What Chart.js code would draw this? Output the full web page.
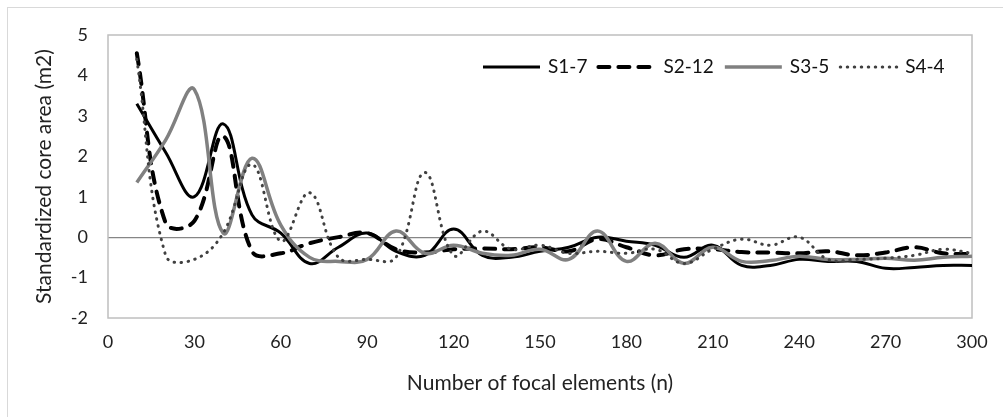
<!DOCTYPE html>
<html>
<head>
<meta charset="utf-8">
<script src="https://cdn.jsdelivr.net/npm/chart.js@4.4.1/dist/chart.umd.min.js"></script>
<style>
  body { margin: 0; background: #fff; }
  #wrap { width: 1003px; height: 417px; }
</style>
</head>
<body>
<div id="wrap"><canvas id="coreChart" width="1003" height="417"></canvas></div>
<script>
// focal elements (n)
const focalElements = [10, 20, 30, 40, 50, 60, 70, 80, 90, 100, 110, 120, 130, 140, 150,
                       160, 170, 180, 190, 200, 210, 220, 230, 240, 250, 260, 270, 280, 290, 300];

// standardized core area per scenario
const s1Values = [3.3, 2.1, 1.0, 2.8, 0.55, 0.1, -0.65, -0.25, 0.1, -0.35, -0.45, 0.2, -0.45, -0.5, -0.35,
                  -0.25, 0.0, -0.1, -0.2, -0.5, -0.2, -0.7, -0.7, -0.55, -0.6, -0.6, -0.77, -0.75, -0.7, -0.7];
const s2Values = [4.55, 0.35, 0.4, 2.5, -0.35, -0.4, -0.15, 0.0, 0.1, -0.3, -0.38, -0.3, -0.28, -0.3, -0.25,
                  -0.35, -0.05, -0.25, -0.45, -0.3, -0.3, -0.37, -0.38, -0.4, -0.35, -0.45, -0.38, -0.25, -0.4, -0.42];
const s3Values = [1.35, 2.4, 3.65, 0.1, 1.95, 0.3, -0.5, -0.6, -0.55, 0.15, -0.4, -0.2, -0.4, -0.45, -0.3,
                  -0.55, 0.15, -0.6, -0.15, -0.65, -0.25, -0.6, -0.58, -0.47, -0.55, -0.55, -0.52, -0.57, -0.5, -0.47];
const s4Values = [4.4, -0.45, -0.55, 0.1, 1.8, -0.1, 1.1, -0.5, -0.55, -0.5, 1.6, -0.45, 0.15, -0.3, -0.2,
                  -0.4, -0.35, -0.4, -0.3, -0.65, -0.3, -0.05, -0.2, 0.0, -0.55, -0.55, -0.52, -0.45, -0.3, -0.4];

const seriesLabels = ["S1-7", "S2-12", "S3-5", "S4-4"];

// axis ticks
const xTicks = [0, 30, 60, 90, 120, 150, 180, 210, 240, 270, 300];
const yTicks = [-2, -1, 0, 1, 2, 3, 4, 5];

const fontFamily = "Lato, 'Open Sans', sans-serif";

function toPoints(values) {
    return focalElements.map((x, i) => ({ x: x, y: values[i] }));
}

// legend drawn inside the plot, top right
const insideLegend = {
    id: "insideLegend",
    afterDraw(chart) {
        const ctx = chart.ctx;
        let x = 483;
        const y = 67;
        ctx.save();
        ctx.font = "19px " + fontFamily;
        ctx.textBaseline = "middle";
        ctx.textAlign = "left";
        chart.data.datasets.forEach(ds => {
            ctx.beginPath();
            ctx.strokeStyle = ds.borderColor;
            ctx.lineWidth = ds.borderWidth;
            ctx.setLineDash(ds.borderDash || []);
            ctx.lineCap = ds.borderCapStyle || "butt";
            ctx.moveTo(x, y);
            ctx.lineTo(x + 57, y);
            ctx.stroke();
            x += 57 + 8;
            ctx.fillStyle = "#111";
            ctx.fillText(ds.label, x, y);
            x += ctx.measureText(ds.label).width + 11;
        });
        ctx.restore();
    }
};

// plot frame + outer chart border
const frames = {
    id: "frames",
    beforeDraw(chart) {
        const ctx = chart.ctx;
        ctx.save();
        ctx.fillStyle = "#fff";
        ctx.fillRect(0, 0, chart.width, chart.height);
        ctx.strokeStyle = "#d9d9d9";
        ctx.lineWidth = 1;
        ctx.strokeRect(7.5, 7.5, chart.width + 20, chart.height + 20);
        ctx.restore();
    },
    beforeDatasetsDraw(chart) {
        const a = chart.chartArea;
        const ctx = chart.ctx;
        ctx.save();
        ctx.strokeStyle = "#bfbfbf";
        ctx.lineWidth = 1.5;
        ctx.strokeRect(a.left, a.top, a.right - a.left, a.bottom - a.top);
        ctx.restore();
    }
};

document.addEventListener("DOMContentLoaded", function () {
    const ctx = document.getElementById("coreChart").getContext("2d");

    new Chart(ctx, {
        type: "line",
        data: {
            datasets: [
                {
                    label: seriesLabels[0],
                    data: toPoints(s1Values),
                    borderColor: "#000000",
                    borderWidth: 3,
                    order: 4
                },
                {
                    label: seriesLabels[1],
                    data: toPoints(s2Values),
                    borderColor: "#000000",
                    borderWidth: 4,
                    borderDash: [11, 9],
                    borderCapStyle: "round",
                    order: 3
                },
                {
                    label: seriesLabels[2],
                    data: toPoints(s3Values),
                    borderColor: "#808080",
                    borderWidth: 3.5,
                    order: 2
                },
                {
                    label: seriesLabels[3],
                    data: toPoints(s4Values),
                    borderColor: "#404040",
                    borderWidth: 3,
                    borderDash: [0.5, 6.5],
                    borderCapStyle: "round",
                    order: 1
                }
            ]
        },
        options: {
            responsive: false,
            animation: false,
            layout: { padding: { top: 35, right: 31, left: 0, bottom: 0 } },
            elements: {
                line: { tension: 0.4, fill: false },
                point: { radius: 0, hoverRadius: 0 }
            },
            plugins: {
                legend: { display: false },
                tooltip: { enabled: false }
            },
            scales: {
                x: {
                    type: "linear",
                    min: 0,
                    max: 300,
                    afterBuildTicks: scale => { scale.ticks = xTicks.map(v => ({ value: v })); },
                    afterFit: scale => { scale.height = 99; },
                    grid: { display: false, drawTicks: false },
                    border: { display: false },
                    ticks: {
                        padding: 13,
                        color: "#222",
                        font: { family: fontFamily, size: 18 },
                        maxRotation: 0
                    },
                    title: {
                        display: true,
                        text: "Number of focal elements (n)",
                        color: "#222",
                        font: { family: fontFamily, size: 21 },
                        padding: { top: 0, bottom: 21 }
                    }
                },
                y: {
                    min: -2,
                    max: 5,
                    afterBuildTicks: scale => { scale.ticks = yTicks.map(v => ({ value: v })); },
                    afterFit: scale => { scale.width = 108; },
                    grid: {
                        drawTicks: false,
                        color: c => (c.tick && c.tick.value === 0 ? "#868686" : "rgba(0,0,0,0)"),
                        lineWidth: 1.2
                    },
                    border: { display: false },
                    ticks: {
                        padding: 20,
                        color: "#222",
                        font: { family: fontFamily, size: 18 }
                    },
                    title: {
                        display: true,
                        text: "Standardized core area (m2)",
                        color: "#222",
                        font: { family: fontFamily, size: 21 },
                        padding: { top: 32, bottom: 0 }
                    }
                }
            }
        },
        plugins: [frames, insideLegend]
    });
});
</script>
</body>
</html>
